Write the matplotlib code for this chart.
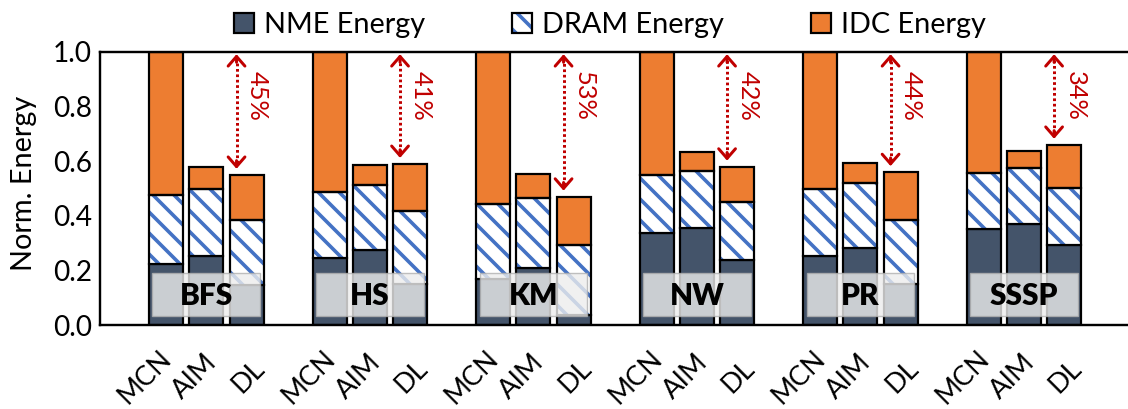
import matplotlib
matplotlib.use("Agg")
import numpy as np
import matplotlib.pyplot as plt
from matplotlib.patches import Rectangle, Patch
from matplotlib.legend_handler import HandlerTuple

# ---- data -------------------------------------------------------------
workloads = ["BFS", "HS", "KM", "NW", "PR", "SSSP"]
systems = ["MCN", "AIM", "DL"]

# normalized energy components per system (one value per workload)
nme_mcn = np.array([0.225, 0.245, 0.170, 0.337, 0.253, 0.352])
dram_mcn = np.array([0.251, 0.242, 0.273, 0.212, 0.245, 0.205])
idc_mcn = np.array([0.524, 0.513, 0.557, 0.451, 0.502, 0.443])

nme_aim = np.array([0.253, 0.275, 0.209, 0.355, 0.282, 0.370])
dram_aim = np.array([0.245, 0.238, 0.256, 0.209, 0.238, 0.205])
idc_aim = np.array([0.081, 0.073, 0.088, 0.070, 0.073, 0.062])

nme_dl = np.array([0.145, 0.150, 0.035, 0.238, 0.152, 0.293])
dram_dl = np.array([0.240, 0.268, 0.258, 0.213, 0.233, 0.209])
idc_dl = np.array([0.165, 0.172, 0.177, 0.129, 0.175, 0.158])

y_ticks = [0.0, 0.2, 0.4, 0.6, 0.8, 1.0]

series = {
    "MCN": (nme_mcn, dram_mcn, idc_mcn),
    "AIM": (nme_aim, dram_aim, idc_aim),
    "DL": (nme_dl, dram_dl, idc_dl),
}

# ---- style ------------------------------------------------------------
DPI = 126
PX = 72.0 / DPI  # points per pixel
NAVY = "#44546A"
ORANGE = "#ED7D31"
BLUE = "#4472C4"
RED = "#C00000"

plt.rcParams["font.family"] = ["Lato", "DejaVu Sans"]
plt.rcParams["hatch.linewidth"] = 3.6 * PX

fig = plt.figure(figsize=(1128 / DPI, 409 / DPI), dpi=DPI)
ax = fig.add_axes([100 / 1128, 84 / 409, 1028 / 1128, 273 / 409])

offsets = [-0.245, 0.0, 0.245]
bar_w = 0.208
edge_lw = 2.2 * PX
idx = np.arange(len(workloads))

for j, name in enumerate(systems):
    nme, dram, idc = series[name]
    x = idx + offsets[j]
    ax.bar(x, nme, bar_w, color=NAVY, edgecolor="black", linewidth=edge_lw, zorder=2)
    ax.bar(x, dram, bar_w, bottom=nme, color="white", edgecolor=BLUE,
           hatch="\\\\", linewidth=0, zorder=2)
    ax.bar(x, dram, bar_w, bottom=nme, fill=False, edgecolor="black",
           linewidth=edge_lw, zorder=2.1)
    ax.bar(x, idc, bar_w, bottom=nme + dram, color=ORANGE, edgecolor="black",
           linewidth=edge_lw, zorder=2)

# workload name plates across each group
for i, wl in enumerate(workloads):
    ax.add_patch(Rectangle((i - 0.33, 0.033), 0.66, 0.157, facecolor="#ededed",
                           edgecolor="#b0b0b0", linewidth=0.8, alpha=0.8, zorder=3))
    ax.text(i, 0.108, wl, ha="center", va="center", fontsize=17,
            fontweight="heavy", color="black", zorder=4)

# savings of DL relative to MCN
mcn_total = nme_mcn + dram_mcn + idc_mcn
dl_total = nme_dl + dram_dl + idc_dl
for i in range(len(workloads)):
    xa = i + offsets[2] - 0.061
    top = 0.992
    bot = dl_total[i] + 0.022
    ax.plot([xa, xa], [bot + 0.02, top - 0.02], color=RED, linewidth=3.0 * PX,
            linestyle=(0, (0.9, 0.9)), dash_capstyle="butt", zorder=3)
    head = dict(arrowstyle="->,head_length=0.55,head_width=0.48", color=RED,
                lw=3.0 * PX, mutation_scale=10, shrinkA=0, shrinkB=0)
    ax.annotate("", xy=(xa, top), xytext=(xa, top - 0.03), arrowprops=head, zorder=3)
    ax.annotate("", xy=(xa, bot), xytext=(xa, bot + 0.03), arrowprops=head, zorder=3)
    saving = round(100 * (mcn_total[i] - dl_total[i]) / mcn_total[i])
    ax.text(xa + 0.128, 0.84, f"{saving}%", rotation=270, ha="center", va="center",
            color=RED, fontsize=14.5, zorder=4)

# rotated system labels under each bar
label_shift = [-0.13, -0.07, 0.01]
for i in range(len(workloads)):
    for j, name in enumerate(systems):
        ax.text(i + offsets[j] + label_shift[j], -0.19, name, rotation=45,
                rotation_mode="anchor", ha="center", va="center",
                fontsize=15.5, clip_on=False)

ax.set_xlim(-0.651, 5.636)
ax.set_ylim(0, 1.0)
ax.set_xticks([])
ax.set_yticks(y_ticks)
ax.set_yticklabels([f"{t:.1f}" for t in y_ticks], fontsize=16)
ax.tick_params(axis="y", length=0, pad=8 * PX)
for side in ("top", "left", "bottom"):
    ax.spines[side].set_linewidth(2.4 * PX)
    ax.spines[side].set_color("black")
    ax.spines[side].set_zorder(5)
ax.spines["right"].set_visible(False)

fig.text(24 / 1128, 1 - 183.5 / 409, "Norm. Energy", rotation=90,
         ha="center", va="center", fontsize=16.5)

handles = [
    Patch(facecolor=NAVY, edgecolor="black", linewidth=edge_lw),
    (Patch(facecolor="white", edgecolor=BLUE, hatch="\\\\", linewidth=0),
     Patch(fill=False, edgecolor="black", linewidth=edge_lw)),
    Patch(facecolor=ORANGE, edgecolor="black", linewidth=edge_lw),
]
fig.legend(handles, ["NME Energy", "DRAM Energy", "IDC Energy"],
           loc="center", bbox_to_anchor=(610 / 1128, 1 - 25 / 409), ncol=3,
           frameon=False, fontsize=16.5, handlelength=0.7, handleheight=0.7,
           handletextpad=0.35, columnspacing=3.0, borderpad=0,
           handler_map={tuple: HandlerTuple(ndivide=1, pad=0)})

fig.savefig("out.png", dpi=DPI)
